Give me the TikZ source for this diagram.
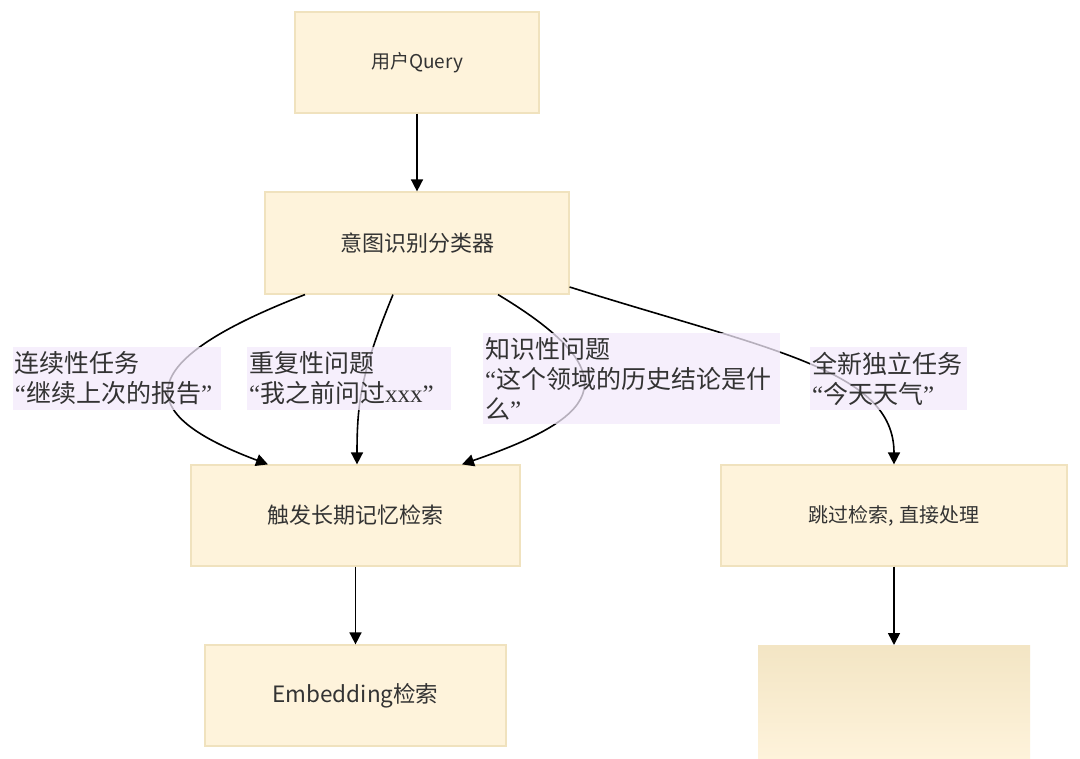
\documentclass[tikz,border=0pt]{standalone}
\usepackage{fontspec}
\setmainfont{Noto Sans CJK SC}
\newfontfamily\qserif{Liberation Serif}
\usetikzlibrary{arrows.meta,calc}
\definecolor{boxfill}{HTML}{FEF3DB}
\definecolor{boxline}{HTML}{F0E2BE}
\definecolor{fadetop}{HTML}{F3E5C4}
\definecolor{lblfill}{HTML}{F3EAFB}
\definecolor{txt}{HTML}{333333}
\newcommand{\myLQ}{{\qserif “}}
\newcommand{\myRQ}{{\qserif ”}}
\tikzset{
  flowbox/.style={draw=boxline, line width=1.2pt, fill=boxfill, inner sep=0pt, text=txt},
  lbl/.style={fill=lblfill, fill opacity=0.75, text opacity=1, text=txt, inner xsep=2pt, inner ysep=0pt, align=left, font=\fontsize{25}{30}\selectfont},
  link/.style={line width=1.6pt, draw=black, -{Triangle[length=12pt,width=12pt]}}
}
\begin{document}
\begin{tikzpicture}[x=1pt,y=-1pt]
\useasboundingbox[fill=white] (0,0) rectangle (1080,759);
\node[flowbox, minimum width=244pt, minimum height=101pt, font=\fontsize{19}{22}\selectfont] (q) at (417,62.5) {用户Query};
\node[flowbox, minimum width=304pt, minimum height=102pt, font=\fontsize{22}{24}\selectfont] (cls) at (417,243) {意图识别分类器};
\node[flowbox, minimum width=329pt, minimum height=101pt, font=\fontsize{22}{24}\selectfont] (trig) at (355.5,515.5) {触发长期记忆检索};
\node[flowbox, minimum width=346pt, minimum height=101pt, font=\fontsize{20}{24}\selectfont] (skip) at (894,515.5) {跳过检索, 直接处理};
\node[flowbox, minimum width=301pt, minimum height=101pt, font=\fontsize{22.5}{24}\selectfont] (emb) at (355.5,695.5) {Embedding检索};
\node[inner sep=0pt, minimum width=272pt, minimum height=114pt, anchor=north, top color=fadetop, bottom color=boxfill] (out) at (894,645) {};

\draw[link] (q.south) -- (cls.north);
\draw[link] ([xshift=-112pt]cls.south) .. controls (110,370) and (150,420) .. ([xshift=-87.5pt]trig.north);
\draw[link] ([xshift=-24pt]cls.south) .. controls (362,370) and (357,400) .. ([xshift=1.5pt]trig.north);
\draw[link] ([xshift=81pt]cls.south) .. controls (640,380) and (590,420) .. ([xshift=106.5pt]trig.north);
\draw[link] ([yshift=-44pt]cls.east) .. controls (770,350) and (894,370) .. (skip.north);
\draw[link] (trig.south) -- (emb.north);
\draw[link] (skip.south) -- (out.north);

\node[lbl, text width=204pt, minimum height=63pt] (l1) at (117,378.5) {连续性任务\\\myLQ 继续上次的报告\myRQ};
\node[lbl, text width=200pt, minimum height=63pt] (l2) at (349,378.5) {重复性问题\\\myLQ 我之前问过{\qserif xxx}\myRQ};
\node[lbl, text width=293pt, minimum height=91pt] (l3) at (631.5,378.5) {知识性问题\\\myLQ 这个领域的历史结论是什\\么\myRQ};
\node[lbl, text width=153pt, minimum height=63pt] (l4) at (888.5,378.5) {全新独立任务\\\myLQ 今天天气\myRQ};
\end{tikzpicture}
\end{document}
